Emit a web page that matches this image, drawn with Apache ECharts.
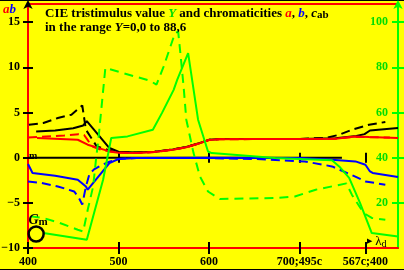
<!DOCTYPE html>
<html>
<head>
<meta charset="utf-8">
<script src="https://cdn.jsdelivr.net/npm/echarts@6/dist/echarts.min.js"></script>
<style>
  html, body { margin: 0; padding: 0; background: #ffff00; }
  #main { width: 404px; height: 270px; }
</style>
</head>
<body>
<div id="main"></div>
<script>
// axis ticks and labels
var lambdaTicks = [400, 500, 600, 700, 773];
var lambdaLabels = ['400', '500', '600', '700;495c', '567c;400'];
var zeroTicks = [500, 600, 700, 773];
var abTicks = [-10, -5, 0, 5, 10, 15];
var yTicks = [20, 40, 60, 80, 100];

// chromaticity a (red), solid and dashed
var aSolid = [[410, 2.17], [455, 1.98], [466, 1.43], [490, 0.69], [500, 0.55], [520, 0.5], [540, 0.62], [560, 0.88], [575, 1.15], [590, 1.6], [600, 1.95], [612, 2.03], [650, 2.05], [700, 2.05], [740, 2.1], [761, 2.35], [777, 2.28], [809, 2.17]];
var aDashed = [[400, 2.23], [420, 2.35], [440, 2.45], [456, 2.6], [462, 2.5], [467, 1.8], [472, 1.2], [480, 0.9], [490, 0.7], [500, 0.58], [520, 0.52], [540, 0.62], [560, 0.88], [575, 1.15], [590, 1.6], [600, 1.95], [612, 2.03], [650, 2.05], [700, 2.05], [740, 2.1], [760, 2.3], [780, 2.25], [800, 2.23]];
// chromaticity b (blue)
var bSolid = [[400, -0.7], [405, -1.7], [430, -2.0], [455, -2.44], [464, -3.19], [466, -3.55], [490, -0.6], [500, -0.15], [520, -0.03], [600, 0], [700, -0.05], [736, -0.23], [762, -0.42], [773, -0.79], [778, -1.53], [781, -1.7], [809, -2.15]];
var bDashed = [[400, -2.63], [415, -2.8], [433, -3.19], [451, -3.74], [456, -4.4], [460, -5.2], [464, -3.2], [468, -1.8], [473, -1.3], [480, -0.9], [490, -0.45], [500, -0.15], [520, -0.05], [600, -0.05], [650, -0.15], [680, -0.3], [706, -0.42], [736, -0.97], [763, -2.15], [773, -2.63], [795, -3.0]];
// chroma cab (black)
var cSolid = [[409, 2.9], [430, 3.0], [450, 3.25], [461, 3.56], [465, 4.05], [490, 1.06], [500, 0.65], [520, 0.58], [540, 0.66], [560, 0.9], [575, 1.17], [590, 1.62], [600, 1.97], [612, 2.05], [650, 2.07], [700, 2.07], [740, 2.15], [763, 2.4], [772, 2.6], [778, 3.0], [809, 3.27]];
var cDashed = [[401, 3.64], [417, 3.83], [433, 4.38], [448, 4.75], [460, 5.77], [464, 3.09], [470, 2.17], [476, 1.24], [494, 0.69], [500, 0.62], [520, 0.56], [540, 0.64], [560, 0.9], [575, 1.17], [590, 1.62], [600, 1.97], [612, 2.05], [650, 2.07], [700, 2.07], [730, 2.2], [744, 2.53], [758, 3.09], [777, 3.64], [795, 3.94]];
// tristimulus value Y (green, right axis)
var ySolid = [[400, 6.8], [417, 6.6], [465, 3.7], [483, 30.2], [492, 48.7], [510, 49.4], [538, 52.3], [548, 59.7], [561, 70], [565, 74.5], [577, 86.3], [588, 56.8], [599, 42.7], [603, 42], [673, 39.8], [736, 38.8], [744, 36.1], [755, 31], [767, 20], [780, 6.6], [809, 5.1]];
var yDashed = [[403, 14], [417, 13.3], [435, 11.1], [455, 8.1], [461, 7.3], [466, 16.9], [472, 27.2], [475.5, 40.5], [477.4, 46.4], [485.5, 79.7], [535, 74], [542, 72.3], [550, 80.4], [562.5, 95.1], [566, 95.8], [568, 88], [572, 71.5], [575, 56.8], [583, 42], [590, 31.7], [599, 25], [612, 21.7], [673, 22.1], [695, 22.8], [718, 25.8], [752, 28.6], [758, 23.6], [771, 15.5], [780, 13.3], [795, 12.5]];
var zeroLine = [[400, 0], [747, 0]];
var gmPoint = [[409, -8.45]];

var serif = 'Liberation Serif';
var GREEN = '#00ff00';
var GREEN_TXT = '#00dd00';

function xAx(extra) {
    return Object.assign({
        type: 'value', min: 400, max: 809, position: 'bottom',
        splitLine: { show: false },
        axisLabel: { show: false },
        axisLine: { show: false, onZero: false }
    }, extra);
}

var myChart = echarts.init(document.getElementById('main'), null, { renderer: 'canvas' });
myChart.setOption({
    backgroundColor: '#ffff00',
    animation: false,
    title: {
        left: 40, top: 2,
        text: '{b|CIE tristimulus value }{y|Y}{b| and chromaticities }{a|a}{b|, }{bb|b}{b|, }{c|c}{sub|ab}\n{b|in the range }{i|Y}{b|=0,0 to 88,6}',
        textStyle: {
            rich: {
                b: { fontFamily: serif, fontWeight: 'bold', fontSize: 13, color: '#000', lineHeight: 14 },
                i: { fontFamily: serif, fontWeight: 'bold', fontStyle: 'italic', fontSize: 13, color: '#000', lineHeight: 14 },
                y: { fontFamily: serif, fontWeight: 'bold', fontStyle: 'italic', fontSize: 13, color: GREEN_TXT, lineHeight: 14 },
                a: { fontFamily: serif, fontWeight: 'bold', fontStyle: 'italic', fontSize: 13, color: '#ff0000', lineHeight: 14 },
                bb: { fontFamily: serif, fontWeight: 'bold', fontStyle: 'italic', fontSize: 13, color: '#0000ff', lineHeight: 14 },
                c: { fontFamily: serif, fontWeight: 'bold', fontStyle: 'italic', fontSize: 13, color: '#000', lineHeight: 14 },
                sub: { fontFamily: serif, fontWeight: 'bold', fontSize: 11, color: '#000', lineHeight: 14, verticalAlign: 'bottom', padding: [3, 0, 0, 0] }
            }
        }
    },
    grid: { left: 28, right: 6, top: 4, bottom: 22, show: true, borderColor: '#ff0000', borderWidth: 2, backgroundColor: 'transparent', outerBoundsMode: 'none' },
    xAxis: [
        xAx({
            axisLine: { show: true, onZero: false, lineStyle: { color: '#ff0000', width: 2 } },
            axisTick: { customValues: lambdaTicks, length: 6, lineStyle: { color: '#000', width: 2 } },
            axisLabel: {
                show: true, customValues: lambdaTicks, margin: 8,
                color: '#000', fontFamily: serif, fontWeight: 'bold', fontSize: 12,
                formatter: function (v) { var k = lambdaTicks.indexOf(v); return k < 0 ? '' : lambdaLabels[k]; }
            }
        }),
        xAx({ axisTick: { inside: true, customValues: lambdaTicks, length: 6, lineStyle: { color: '#000', width: 2 } } }),
        xAx({ axisLine: { show: false, onZero: true, onZeroAxisIndex: 0 }, axisTick: { customValues: zeroTicks, length: 5, lineStyle: { color: '#000', width: 2 } } }),
        xAx({ axisLine: { show: false, onZero: true, onZeroAxisIndex: 0 }, axisTick: { inside: true, customValues: zeroTicks, length: 5, lineStyle: { color: '#000', width: 2 } } })
    ],
    yAxis: [
        {
            type: 'value', min: -10, max: 17, position: 'left',
            splitLine: { show: false },
            axisLine: { show: true, onZero: false, lineStyle: { color: '#ff0000', width: 2 } },
            axisTick: { customValues: abTicks, length: 5, lineStyle: { color: '#000', width: 2 } },
            axisLabel: {
                customValues: abTicks, margin: 8, color: '#000', fontFamily: serif, fontWeight: 'bold', fontSize: 12,
                formatter: function (v) { return String(v).replace('-', '\u2212'); }
            }
        },
        {
            type: 'value', min: 0, max: 108, position: 'right',
            splitLine: { show: false },
            axisLine: { show: true, onZero: false, symbol: ['none', 'arrow'], symbolSize: [7, 9], symbolOffset: [0, 4], lineStyle: { color: GREEN, width: 2 } },
            axisTick: { customValues: yTicks, length: 6, lineStyle: { color: GREEN, width: 2 } },
            axisLabel: { inside: true, customValues: yTicks, margin: 10, color: GREEN_TXT, fontFamily: serif, fontWeight: 'bold', fontSize: 12 }
        },
        {
            type: 'value', min: -10, max: 17, position: 'left',
            splitLine: { show: false }, axisLabel: { show: false },
            axisLine: { show: true, onZero: false, symbol: ['none', 'arrow'], symbolSize: [7, 9], symbolOffset: [0, 4], lineStyle: { color: '#000', width: 0 } },
            axisTick: { inside: true, customValues: abTicks, length: 5, lineStyle: { color: '#000', width: 2 } }
        },
        {
            type: 'value', min: 0, max: 108, position: 'right',
            splitLine: { show: false }, axisLabel: { show: false },
            axisLine: { show: false, onZero: false },
            axisTick: { inside: true, customValues: yTicks, length: 6, lineStyle: { color: GREEN, width: 2 } }
        }
    ],
    series: [
        { type: 'line', data: zeroLine, symbol: 'none', lineStyle: { color: '#000', width: 2 } },
        { type: 'line', data: cSolid, symbol: 'none', lineStyle: { color: '#000', width: 2 } },
        { type: 'line', data: cDashed, symbol: 'none', lineStyle: { color: '#000', width: 2, type: [9, 5] } },
        { type: 'line', data: bSolid, symbol: 'none', lineStyle: { color: '#0000ff', width: 2 } },
        { type: 'line', data: bDashed, symbol: 'none', lineStyle: { color: '#0000ff', width: 2, type: [9, 5] } },
        { type: 'line', data: aSolid, symbol: 'none', lineStyle: { color: '#ff0000', width: 2 } },
        { type: 'line', data: aDashed, symbol: 'none', lineStyle: { color: '#ff0000', width: 2, type: [9, 5] } },
        { type: 'line', yAxisIndex: 1, data: ySolid, symbol: 'none', lineStyle: { color: GREEN, width: 2 } },
        { type: 'line', yAxisIndex: 1, data: yDashed, symbol: 'none', lineStyle: { color: GREEN, width: 2, type: [9, 6] } },
        {
            type: 'scatter', data: gmPoint, z: 5, symbol: 'circle', symbolSize: 15,
            itemStyle: { color: '#ffff00', borderColor: '#000', borderWidth: 2.5, opacity: 1 },
            label: {
                show: true, position: 'inside', offset: [2, -14], formatter: '{g|G}{m|m}',
                rich: {
                    g: { fontFamily: serif, fontWeight: 'bold', fontStyle: 'italic', fontSize: 14, color: '#000' },
                    m: { fontFamily: serif, fontWeight: 'bold', fontSize: 11, color: '#000', padding: [5, 0, 0, 0] }
                }
            }
        }
    ],
    graphic: [
        { type: 'text', left: 3, top: 3, style: { text: '{a|a}{b|b}', rich: {
            a: { fontFamily: serif, fontWeight: 'bold', fontStyle: 'italic', fontSize: 13, fill: '#ff0000' },
            b: { fontFamily: serif, fontWeight: 'bold', fontStyle: 'italic', fontSize: 13, fill: '#0000ff' }
        } } },
        { type: 'text', left: 367, top: 235, style: { text: '{ar|\u25B6}{l| \u03BB}{d|d}', rich: {
            ar: { fontSize: 7, fill: '#000' },
            l: { fontFamily: serif, fontSize: 13, fill: '#000' },
            d: { fontFamily: serif, fontSize: 10, fill: '#000', padding: [5, 0, 0, 0] }
        } } },
        { type: 'text', left: 29, top: 151, style: { text: 'm', fontFamily: serif, fontWeight: 'bold', fontSize: 10, fill: '#000' } },
        { type: 'line', shape: { x1: 0, y1: 0.5, x2: 404, y2: 0.5 }, style: { stroke: '#000', lineWidth: 1 } },
        { type: 'line', shape: { x1: 0, y1: 269.5, x2: 404, y2: 269.5 }, style: { stroke: '#000', lineWidth: 1 } }
    ]
});
</script>
</body>
</html>
